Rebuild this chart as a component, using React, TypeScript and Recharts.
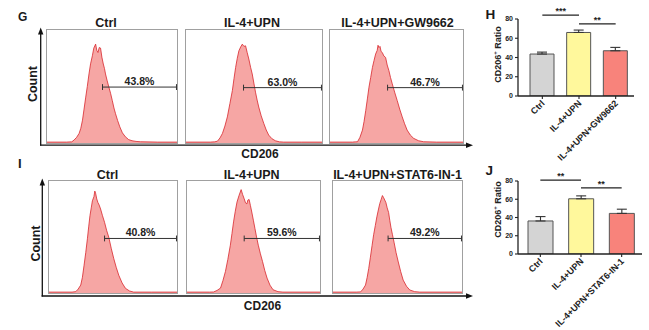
import React from 'react';
import { AreaChart, Area, XAxis, YAxis, ReferenceLine, BarChart, Bar, ErrorBar, Cell } from 'recharts';

const FONT = "Arial, 'Liberation Sans', Helvetica, sans-serif";

// Flow histograms: [CD206 intensity (0-100 display units), count (% of panel scale)]
const histCtrlG: [number, number][] = [[0,0.8],[15,0.8],[19,1],[20.8,2.6],[22.8,5],[24.7,8.5],[26,13],[27.3,20.2],[28.5,30],[29.8,40.6],[31,50],[32.3,61.1],[33.5,70],[34.9,77.2],[36,84],[37.4,87.5],[38.3,82],[39.2,80.1],[40.2,84.5],[41.2,84],[42.2,76],[43.3,69.9],[44.2,66],[45,61.1],[46.3,55],[47.6,49.4],[48.9,44],[50.2,37.7],[51.5,31],[52.7,26],[54.3,20],[56,14.3],[58,9],[60.3,5.5],[62.8,3],[65.4,2],[68.5,1.4],[71.8,1.1],[85,0.8],[100,0.8]];
const histUpnG: [number, number][] = [[0,0.8],[18,0.8],[21,1],[23.1,1.6],[25,4.5],[26.8,8.5],[28.6,15],[30.4,23.1],[32.3,35],[34.1,46.5],[35.3,57],[36.5,66.9],[37.7,75],[38.9,81.6],[40.2,85],[41.4,87.5],[42.6,85.5],[43.8,86],[45,80],[46.2,74.3],[47.5,67],[48.7,61.1],[49.9,53],[51.1,45],[52.3,38],[53.5,31.8],[55.3,24],[57.2,17.3],[59,11.5],[60.8,7],[63.2,3.8],[65.7,2],[68.7,1],[71.8,0.8],[85,0.8],[100,0.8]];
const histGwG: [number, number][] = [[0,0.8],[17,0.8],[19,1],[20.7,1.1],[22.5,5],[24.4,11.4],[25.6,19],[26.9,28.9],[28.1,39],[29.3,49.4],[30.6,58],[31.9,66.9],[33.1,73],[34.3,78.7],[35.5,82],[36.1,86.5],[36.8,84.5],[37.6,85.5],[38.4,81],[39.3,80.1],[40.5,77],[41.8,75.7],[43,69],[44.3,64],[45.5,58],[46.8,52.4],[48.6,45],[50.5,37.7],[52.4,30],[54.3,23.1],[56.1,17],[58,11.4],[60.4,7],[62.9,4.1],[66.6,2],[70.4,1.1],[80,0.8],[100,0.8]];
const histCtrlI: [number, number][] = [[0,0.8],[18,0.8],[20.9,1.2],[22.8,3.5],[24.8,7.1],[26.1,14],[27.4,24.8],[28.7,36],[30,48.4],[31,59],[32,69],[33,76],[33.9,82.3],[35.1,86],[35.8,91],[36.4,89.1],[37.3,84],[38.2,80.8],[39.2,78.5],[40.3,75],[41.8,69],[43.4,63.1],[45,56],[46.7,49.8],[48.6,40],[50.6,30.7],[52.5,23],[54.5,15.9],[57.1,9],[59.7,4.2],[62.9,1.8],[66.1,0.8],[80,0.8],[100,0.8]];
const histUpnI: [number, number][] = [[0,0.8],[17,0.8],[20,0.9],[22.6,2.3],[25.2,4.4],[27,11],[28.9,19.2],[30.7,30],[32.6,42.7],[33.8,53],[35,63.5],[36.3,73],[37.6,81.2],[39.1,87],[40.7,92.3],[41.8,88],[43,84.1],[44,80.5],[45,79.6],[45.8,83],[46.7,83.5],[47.7,78],[48.7,72.3],[49.9,65],[51.1,57.5],[52.3,50],[53.6,42.7],[55.2,35],[56.8,28.1],[58.5,20],[60.2,13.3],[62.4,7],[64.7,2.9],[68.4,1.2],[72.1,0.8],[100,0.8]];
const histStatI: [number, number][] = [[0,0.8],[18,0.8],[21.4,1],[23.3,3.5],[25.2,7.1],[26.5,14],[27.7,21.9],[29,32],[30.3,42.5],[31.5,52],[32.8,60.2],[34,68],[35.3,75],[36.3,80],[37.4,83.8],[38.3,87],[39.2,85.2],[40.1,83],[41,80.8],[42,76],[43.1,71.9],[44,65],[44.9,58.7],[46.1,52],[47.3,45.4],[48.9,36],[50.6,27.7],[52.5,19],[54.4,11.5],[57,6],[59.5,2.7],[63.3,1.2],[67.2,0.8],[100,0.8]];

const gateStartsG = [42.7, 42.3, 43.3];
const gateStartsI = [43.4, 43.0, 42.7];
const gateLevelsG = [49.5, 49, 49];
const gateLevelsI = [48.7, 48.7, 48.7];
const gatePctG = ['43.8%', '63.0%', '46.7%'];
const gatePctI = ['40.8%', '59.6%', '49.2%'];
const groupTitlesG = ['Ctrl', 'IL-4+UPN', 'IL-4+UPN+GW9662'];
const groupTitlesI = ['Ctrl', 'IL-4+UPN', 'IL-4+UPN+STAT6-IN-1'];

// Bar charts
const barCatsH = ['Ctrl', 'IL-4+UPN', 'IL-4+UPN+GW9662'];
const barValsH = [43.6, 66, 47];
const barErrH = [2, 2.5, 3.5];
const barCatsJ = ['Ctrl', 'IL-4+UPN', 'IL-4+UPN+STAT6-IN-1'];
const barValsJ = [36.2, 60.5, 44.5];
const barErrJ = [4.8, 3.2, 4.6];
const barColors = ['#d4d4d4', '#fff89c', '#f8837b'];
const yTicks = [0, 20, 40, 60, 80];
const sigH = [{ from: 0, to: 1, level: 84, stars: '***' }, { from: 1, to: 2, level: 75, stars: '**' }];
const sigJ = [{ from: 0, to: 1, level: 81, stars: '**' }, { from: 1, to: 2, level: 72.5, stars: '**' }];

type HistoProps = { points: [number, number][]; gateStart: number; gateLevel: number; pct: string; left: number; top: number; width: number; height: number };

function Histo({ points, gateStart, gateLevel, pct, left, top, width, height }: HistoProps) {
  const data = points.map(([x, y]) => ({ x, y }));
  return (
    <div style={{ position: 'absolute', left, top, width, height, border: '1px solid #a0a0a0', boxSizing: 'border-box' }}>
      <AreaChart width={width - 2} height={height - 2} data={data} margin={{ top: 0, right: 0, bottom: 0, left: 0 }}>
        <XAxis type="number" dataKey="x" domain={[0, 100]} hide />
        <YAxis type="number" domain={[0, 100]} hide />
        <Area type="linear" dataKey="y" stroke="#d8262c" strokeWidth={0.8} fill="#f6a6a4" fillOpacity={1} isAnimationActive={false} />
        <ReferenceLine segment={[{ x: gateStart, y: gateLevel }, { x: 99.6, y: gateLevel }]} stroke="#333" strokeWidth={1}
          label={{ value: pct, position: 'top', offset: 2, fontSize: 10.5, fontWeight: 'bold', fill: '#222', fontFamily: FONT }} />
        <ReferenceLine segment={[{ x: gateStart, y: gateLevel - 2.6 }, { x: gateStart, y: gateLevel + 2.6 }]} stroke="#333" strokeWidth={1} />
        <ReferenceLine segment={[{ x: 99.6, y: gateLevel - 2.6 }, { x: 99.6, y: gateLevel + 2.6 }]} stroke="#333" strokeWidth={1} />
      </AreaChart>
    </div>
  );
}

const AngledTick = (props: any) => {
  const { x, y, payload } = props;
  return (
    <text x={x + 3} y={y + 3} textAnchor="end" transform={`rotate(-45 ${x + 3} ${y + 3})`} fontSize={9} fontWeight="bold" fontFamily={FONT} fill="#222">
      {payload.value}
    </text>
  );
};

const makeYLabel = (shift: number) => (props: any) => {
  const vb = props.viewBox || {};
  const cx = vb.x + 8;
  const cy = vb.y + vb.height / 2 + shift;
  return (
    <text x={cx} y={cy} transform={`rotate(-90 ${cx} ${cy})`} textAnchor="middle" dominantBaseline="central" fontSize={9} fontWeight="bold" fontFamily={FONT} fill="#222">
      CD206<tspan dy={-3} fontSize={6}>+</tspan><tspan dy={3}> Ratio</tspan>
    </text>
  );
};

type RatioProps = { cats: string[]; vals: number[]; errs: number[]; sig: { from: number; to: number; level: number; stars: string }[]; left: number; top: number; width: number; height: number; margin: any; padLeft: number; barSize: number; labelShift: number };

function RatioChart({ cats, vals, errs, sig, left, top, width, height, margin, padLeft, barSize, labelShift }: RatioProps) {
  const data = cats.map((name, i) => ({ name, value: vals[i], err: [0, errs[i]] }));
  return (
    <div style={{ position: 'absolute', left, top }}>
      <BarChart width={width} height={height} data={data} margin={margin}>
        <XAxis dataKey="name" padding={{ left: padLeft, right: 0 }} interval={0} height={60}
          axisLine={{ stroke: '#222', strokeWidth: 1.3 }} tickLine={{ stroke: '#222', strokeWidth: 1.1 }} tickSize={3} tick={<AngledTick />} />
        <YAxis type="number" domain={[0, 80]} ticks={yTicks} allowDataOverflow width={28} interval={0}
          axisLine={{ stroke: '#222', strokeWidth: 1.3 }} tickLine={{ stroke: '#222', strokeWidth: 1.1 }} tickSize={3}
          tick={{ fontSize: 7, fontWeight: 'bold', fill: '#222', fontFamily: FONT }}
          label={makeYLabel(labelShift)} />
        <Bar dataKey="value" barSize={barSize} stroke="#555" strokeWidth={1} isAnimationActive={false}>
          {data.map((d, i) => <Cell key={d.name} fill={barColors[i]} />)}
          <ErrorBar dataKey="err" width={5} stroke="#333" strokeWidth={1.1} direction="y" isAnimationActive={false} />
        </Bar>
        {sig.map((s, i) => (
          <ReferenceLine key={i} segment={[{ x: cats[s.from], y: s.level }, { x: cats[s.to], y: s.level }]} ifOverflow="visible"
            stroke="#222" strokeWidth={1.3}
            label={{ value: s.stars, position: 'top', offset: 1, fontSize: 9, fontWeight: 'bold', fill: '#222', fontFamily: FONT }} />
        ))}
      </BarChart>
    </div>
  );
}

const histsG = [histCtrlG, histUpnG, histGwG];
const histsI = [histCtrlI, histUpnI, histStatI];
const boxesG = [{ left: 46, top: 29, width: 132, height: 115 }, { left: 185, top: 29, width: 138, height: 115 }, { left: 329, top: 29, width: 135, height: 115 }];
const boxesI = [{ left: 48, top: 180, width: 130, height: 114 }, { left: 186, top: 180, width: 135, height: 114 }, { left: 332, top: 180, width: 131, height: 114 }];
const titleXG = [106, 252, 397.5];
const titleXI = [107.5, 251.7, 397.5];

export default function App() {
  const txt = { fontFamily: FONT, fontWeight: 'bold' as const, fill: '#1a1a1a' };
  return (
    <div style={{ position: 'absolute', left: 0, top: 0, width: 649, height: 330, background: '#fff', overflow: 'hidden' }}>
      {histsG.map((h, i) => (
        <Histo key={'g' + i} points={h} gateStart={gateStartsG[i]} gateLevel={gateLevelsG[i]} pct={gatePctG[i]} {...boxesG[i]} />
      ))}
      {histsI.map((h, i) => (
        <Histo key={'i' + i} points={h} gateStart={gateStartsI[i]} gateLevel={gateLevelsI[i]} pct={gatePctI[i]} {...boxesI[i]} />
      ))}
      <RatioChart cats={barCatsH} vals={barValsH} errs={barErrH} sig={sigH} left={480} top={0} width={169} height={165}
        margin={{ top: 19, right: 15, left: 10, bottom: 9 }} padLeft={6} barSize={24} labelShift={-3} />
      <RatioChart cats={barCatsJ} vals={barValsJ} errs={barErrJ} sig={sigJ} left={480} top={165} width={169} height={165}
        margin={{ top: 16, right: 7, left: 10, bottom: 16 }} padLeft={2} barSize={25} labelShift={-8} />
      <svg width={649} height={330} style={{ position: 'absolute', left: 0, top: 0, pointerEvents: 'none' }}>
        <line x1={40.7} y1={33} x2={40.7} y2={145.5} stroke="#111" strokeWidth={1.3} />
        <polygon points="40.7,27.5 38,34.5 43.4,34.5" fill="#111" />
        <line x1={40} y1={145.2} x2={467} y2={145.2} stroke="#111" strokeWidth={1.3} />
        <polygon points="473,145.2 466,142.5 466,147.9" fill="#111" />
        <line x1={42.3} y1={184} x2={42.3} y2={296.5} stroke="#111" strokeWidth={1.3} />
        <polygon points="42.3,178.5 39.6,185.5 45,185.5" fill="#111" />
        <line x1={41.6} y1={296} x2={467} y2={296} stroke="#111" strokeWidth={1.3} />
        <polygon points="473,296 466,293.3 466,298.7" fill="#111" />

        {groupTitlesG.map((t, i) => (
          <text key={'tg' + i} x={titleXG[i]} y={27} textAnchor="middle" fontSize={12.5} {...txt}>{t}</text>
        ))}
        {groupTitlesI.map((t, i) => (
          <text key={'ti' + i} x={titleXI[i]} y={179} textAnchor="middle" fontSize={12.5} {...txt}>{t}</text>
        ))}
        <text x={33} y={84} transform="rotate(-90 33 84)" textAnchor="middle" dominantBaseline="central" fontSize={12.5} {...txt}>Count</text>
        <text x={36} y={243.5} transform="rotate(-90 36 243.5)" textAnchor="middle" dominantBaseline="central" fontSize={12.5} {...txt}>Count</text>
        <text x={260} y={157.5} textAnchor="middle" fontSize={12} {...txt}>CD206</text>
        <text x={262.5} y={309.5} textAnchor="middle" fontSize={12} {...txt}>CD206</text>

        <text x={18} y={20.5} fontSize={12} {...txt}>G</text>
        <text x={18} y={168} fontSize={13} {...txt}>I</text>
        <text x={485.5} y={18.5} fontSize={13.5} {...txt}>H</text>
        <text x={485.5} y={174.5} fontSize={13.5} {...txt}>J</text>
      </svg>
    </div>
  );
}
